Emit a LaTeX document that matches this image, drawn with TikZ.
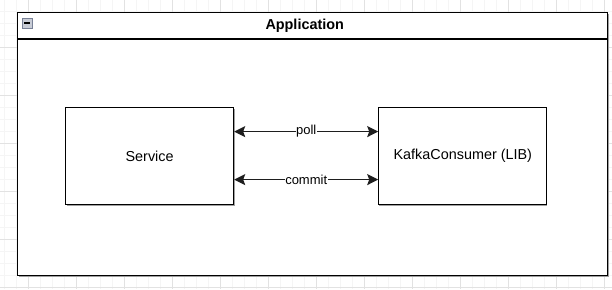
\documentclass[tikz,border=0pt]{standalone}
\usepackage{fontspec}
\setmainfont{Liberation Sans}
\usetikzlibrary{arrows.meta,positioning,calc}
\definecolor{GridMinor}{RGB}{245, 245, 245}
\definecolor{GridMajor}{RGB}{226, 226, 226}
\definecolor{EdgeGray}{RGB}{30, 30, 30}
\definecolor{ShadowGray}{RGB}{160, 160, 160}
\definecolor{IconFill}{RGB}{200, 204, 214}
\definecolor{IconLine}{RGB}{120, 128, 150}

\begin{document}
\begin{tikzpicture}[x=1pt, y=-1pt]
  \tikzstyle{gridminor} = [draw=GridMinor, line width=0.8pt]
  \tikzstyle{gridmajor} = [draw=GridMajor, line width=0.8pt]
  \tikzstyle{block} = [rectangle, draw=black, fill=white, line width=1.2pt, minimum width=168pt, minimum height=97pt, inner sep=0pt, font=\fontsize{14.4}{17}\selectfont, align=center]
  \tikzstyle{shade} = [fill=ShadowGray, draw=none]
  \tikzstyle{line} = [draw=EdgeGray, {Stealth[length=11pt,width=11pt,inset=2pt]}-{Stealth[length=11pt,width=11pt,inset=2pt]}, line width=1.3pt]
  \tikzstyle{tag} = [fill=white, inner sep=0.5pt, font=\fontsize{13}{15}\selectfont, text=black]

  \useasboundingbox (0,0) rectangle (612,289);
  \fill[white] (0,0) rectangle (612,289);

  % canvas grid
  \foreach \gx in {4,16,...,604} \draw[gridminor] (\gx,0) -- (\gx,289);
  \foreach \gy in {11,23,...,287} \draw[gridminor] (0,\gy) -- (612,\gy);
  \foreach \gx in {28,76,...,604} \draw[gridmajor] (\gx,0) -- (\gx,289);
  \foreach \gy in {47,95,...,287} \draw[gridmajor] (0,\gy) -- (612,\gy);

  % container
  \fill[shade] (19,14) rectangle (609,277);
  \node [rectangle, draw=black, fill=white, line width=1.4pt, minimum width=590pt, minimum height=263pt, inner sep=0pt, anchor=north west] (app) at (17,12) {};
  \coordinate (hl) at (17,39);
  \coordinate (hr) at (607,39);
  \draw [black, line width=1.4pt] (hl) -- (hr);
  \node [font=\fontsize{14.4}{17}\selectfont\bfseries, xshift=-8pt] (title) at ($(app.north)!0.5!(app.north |- hl)$) {Application};
  \node [rectangle, draw=IconLine, fill=IconFill, minimum size=10pt, inner sep=0pt, line width=0.7pt] (fold) at (27,23) {};
  \draw [black, line width=1.2pt] ([xshift=2.5pt]fold.west) -- ([xshift=-2.5pt]fold.east);

  % components
  \fill[shade] (66.5,108.5) rectangle (234.5,205.5);
  \fill[shade] (378.5,108.5) rectangle (546.5,205.5);
  \node [block, anchor=north west] (service) at (65,107) {Service};
  \node [block, right=144pt of service] (kafka) {KafkaConsumer (LIB)};

  \path [line] ([yshift=24.5pt]service.east) -- node [tag] {poll} ([yshift=24.5pt]kafka.west);
  \path [line] ([yshift=-23.5pt]service.east) -- node [tag] {commit} ([yshift=-23.5pt]kafka.west);
\end{tikzpicture}
\end{document}
